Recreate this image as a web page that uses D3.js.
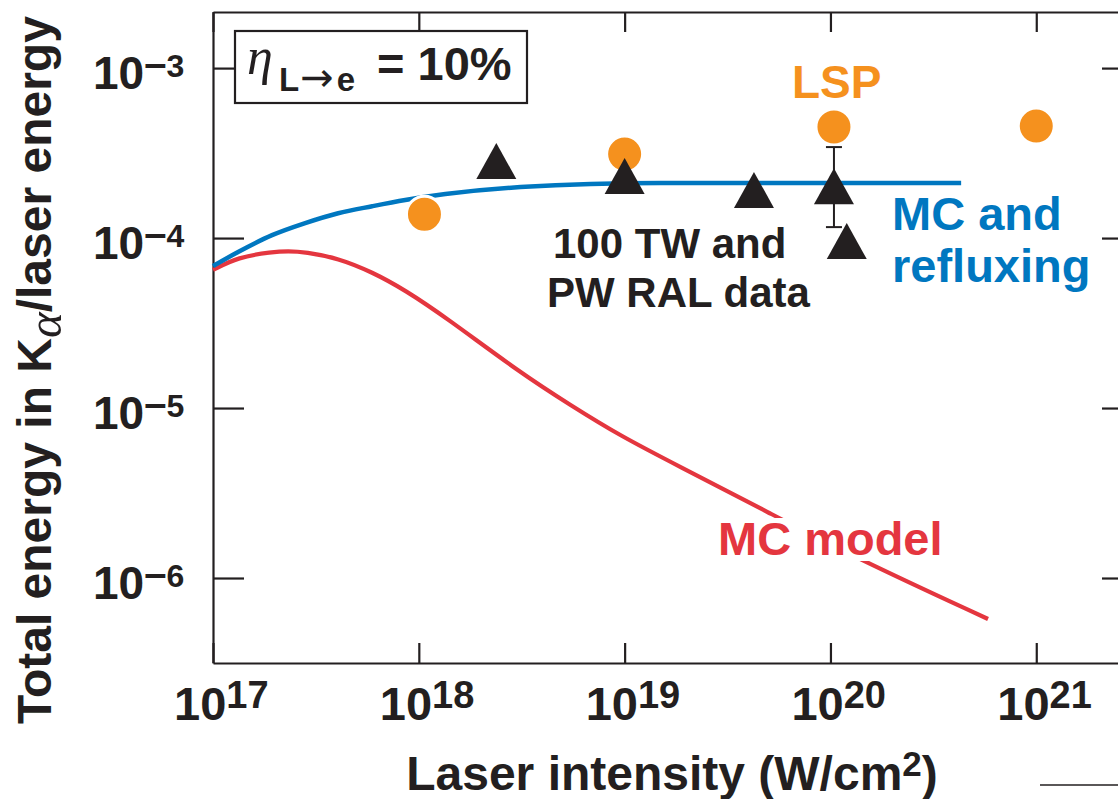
<!DOCTYPE html>
<html>
<head>
<meta charset="utf-8">
<script src="https://cdn.jsdelivr.net/npm/d3@7"></script>
<style>
  body { margin: 0; background: #fff; }
  text { font-family: "Liberation Sans", Arial, Helvetica, sans-serif; font-weight: bold; }
</style>
</head>
<body>
<script>
// ---------------- data ----------------
const xTicks = [1e17, 1e18, 1e19, 1e20, 1e21];
const xTickExp = ["17", "18", "19", "20", "21"];
const yTicks = [1e-6, 1e-5, 1e-4, 1e-3];
const yTickExp = ["6", "5", "4", "3"];

// MC and refluxing (blue curve)
const refluxX = [1e17, 1.324e17, 1.936e17, 2.805e17, 4.055e17, 5.94e17, 8.59e17, 1.346e18, 3.119e18, 1.496e19, 7.18e19, 4.315e20];
const refluxY = [6.84e-5, 8.28e-5, 1.04e-4, 1.225e-4, 1.40e-4, 1.54e-4, 1.675e-4, 1.815e-4, 1.995e-4, 2.11e-4, 2.11e-4, 2.11e-4];

// MC model (red curve)
const mcX = [1e17, 1.324e17, 1.936e17, 2.317e17, 2.805e17, 4.055e17, 5.94e17, 8.59e17, 1.346e18, 3.119e18, 5.46e18, 9.57e18, 1.79e19, 4.97e19, 1.30e20, 5.83e20];
const mcY = [6.49e-5, 7.73e-5, 8.28e-5, 8.39e-5, 8.28e-5, 7.62e-5, 6.31e-5, 4.94e-5, 3.43e-5, 1.61e-5, 1.04e-5, 6.84e-6, 4.62e-6, 2.44e-6, 1.33e-6, 5.74e-7];

// LSP (orange circles)
const lspX = [1.065e18, 1e19, 1.04e20, 1e21];
const lspY = [1.38e-4, 3.12e-4, 4.5e-4, 4.56e-4];

// 100 TW and PW RAL data (black triangles)
const ralX = [2.38e18, 1e19, 4.25e19, 1.04e20, 1.2e20];
const ralY = [2.84e-4, 2.32e-4, 1.92e-4, 2.02e-4, 9.6e-5];
const ralErrHi = [null, null, null, 3.43e-4, null];
const ralErrLo = [null, null, null, 1.16e-4, null];

// ---------------- chart ----------------
const W = 1118, H = 799;
const ink = "#231f20", blue = "#0077c0", red = "#e4363f", orange = "#f5911e";

const svg = d3.select("body").append("svg").attr("width", W).attr("height", H);

const x = d3.scaleLog().domain([1e17, Math.pow(10, 21.47)]).range([213, 1133]);
const y = d3.scaleLog().domain([Math.pow(10, -6.5), Math.pow(10, -2.67)]).range([663, 12]);

function styleAxis(g) {
  g.selectAll(".domain").attr("stroke", ink).attr("stroke-width", 2.2);
  g.selectAll(".tick line").attr("stroke", ink).attr("stroke-width", 2.2);
  g.selectAll(".tick text").remove();
}
const [x0, x1] = x.range();
const [yb, yt] = y.range();

svg.append("g").attr("transform", `translate(0,${yb})`)
  .call(d3.axisBottom(x).tickValues(xTicks).tickSizeInner(-20).tickSizeOuter(0).tickFormat(() => ""))
  .call(styleAxis);
svg.append("g").attr("transform", `translate(0,${yt})`)
  .call(d3.axisTop(x).tickValues(xTicks).tickSizeInner(-20).tickSizeOuter(0).tickFormat(() => ""))
  .call(styleAxis);
svg.append("g").attr("transform", `translate(${x0},0)`)
  .call(d3.axisLeft(y).tickValues(yTicks).tickSizeInner(-31).tickSizeOuter(0).tickFormat(() => ""))
  .call(styleAxis);
svg.append("g").attr("transform", `translate(${x1},0)`)
  .call(d3.axisRight(y).tickValues(yTicks).tickSizeInner(-31).tickSizeOuter(0).tickFormat(() => ""))
  .call(styleAxis);

// x tick labels
xTicks.forEach((v, i) => {
  const t = svg.append("text").attr("x", x(v) - 39).attr("y", yb + 57).attr("fill", ink);
  t.append("tspan").attr("font-size", 47).text("10");
  t.append("tspan").attr("font-size", 38).attr("dy", -12).text(xTickExp[i]);
});
// y tick labels
yTicks.forEach((v, i) => {
  const t = svg.append("text").attr("x", 93).attr("y", y(v) + 21).attr("fill", ink);
  t.append("tspan").attr("font-size", 46).text("10");
  t.append("tspan").attr("font-size", 40).attr("dy", -12).text("\u2013");
  t.append("tspan").attr("font-size", 32).text(yTickExp[i]);
});

// axis titles
svg.append("text").attr("x", 672).attr("y", 790).attr("text-anchor", "middle")
  .attr("font-size", 48).attr("fill", ink)
  .call(t => {
    t.append("tspan").text("Laser intensity (W/cm");
    t.append("tspan").attr("font-size", 35).attr("dy", -14).text("2");
    t.append("tspan").attr("dy", 14).text(")");
  });

svg.append("text").attr("transform", "translate(51,370) rotate(-90)")
  .attr("text-anchor", "middle").attr("font-size", 48).attr("fill", ink)
  .call(t => {
    t.append("tspan").text("Total energy in K");
    t.append("tspan").attr("dy", 10)
      .style("font-family", '"Liberation Serif", "DejaVu Serif", serif')
      .style("font-style", "italic").style("font-weight", "normal")
      .attr("font-size", 49).text("\u03B1");
    t.append("tspan").attr("dy", -10).text("/laser energy");
  });

// efficiency box
svg.append("rect").attr("x", 235).attr("y", 31).attr("width", 292).attr("height", 72)
  .attr("fill", "#fff").attr("stroke", ink).attr("stroke-width", 2.2);
svg.append("text").attr("x", 247).attr("y", 74).attr("font-size", 52).attr("fill", ink)
  .style("font-family", '"Liberation Serif", "DejaVu Serif", serif')
  .style("font-style", "italic").style("font-weight", "normal").text("\u03B7");
svg.append("text").attr("x", 279).attr("y", 91).attr("font-size", 33).attr("fill", ink)
  .call(t => {
    t.append("tspan").text("L");
    t.append("tspan").attr("dx", 1)
      .style("font-family", '"DejaVu Sans", sans-serif').style("font-weight", "normal")
      .attr("font-size", 40).text("\u2192");
    t.append("tspan").attr("dx", 3).text("e");
  });
svg.append("text").attr("x", 377).attr("y", 80).attr("font-size", 47).attr("fill", ink).text("= 10%");

// curves
const smooth = d3.line().x(d => x(d[0])).y(d => y(d[1])).curve(d3.curveBasis);
const mono = d3.line().x(d => x(d[0])).y(d => y(d[1])).curve(d3.curveMonotoneX);
svg.append("path").datum(mcX.map((v, i) => [v, mcY[i]]))
  .attr("d", smooth).attr("fill", "none").attr("stroke", red).attr("stroke-width", 4.2);
svg.append("path").datum(refluxX.map((v, i) => [v, refluxY[i]]))
  .attr("d", mono).attr("fill", "none").attr("stroke", blue).attr("stroke-width", 4.5);

// LSP circles
svg.selectAll("circle.lsp").data(lspX.map((v, i) => [v, lspY[i]])).join("circle")
  .attr("class", "lsp").attr("cx", d => x(d[0])).attr("cy", d => y(d[1])).attr("r", 18)
  .attr("fill", orange).attr("stroke", "#fff").attr("stroke-width", 3);

// error bars
ralX.forEach((v, i) => {
  if (ralErrHi[i] == null) return;
  const cx = x(v);
  svg.append("line").attr("x1", cx).attr("x2", cx).attr("y1", y(ralErrHi[i])).attr("y2", y(ralErrLo[i]))
    .attr("stroke", ink).attr("stroke-width", 2);
  [ralErrHi[i], ralErrLo[i]].forEach(e => {
    svg.append("line").attr("x1", cx - 8).attr("x2", cx + 8).attr("y1", y(e)).attr("y2", y(e))
      .attr("stroke", ink).attr("stroke-width", 2);
  });
});

// RAL triangles
const tw = 40, th = 36;
svg.selectAll("path.ral").data(ralX.map((v, i) => [v, ralY[i]])).join("path")
  .attr("class", "ral")
  .attr("d", d => {
    const cx = x(d[0]), cy = y(d[1]);
    return `M${cx},${cy - th / 2}L${cx + tw / 2},${cy + th / 2}L${cx - tw / 2},${cy + th / 2}Z`;
  })
  .attr("fill", ink);

// labels
svg.append("text").attr("x", 792).attr("y", 98).attr("font-size", 46).attr("fill", orange).text("LSP");
svg.append("text").attr("x", 553).attr("y", 258).attr("font-size", 42).attr("fill", ink).text("100 TW and");
svg.append("text").attr("x", 547).attr("y", 307).attr("font-size", 42).attr("fill", ink).text("PW RAL data");
svg.append("text").attr("x", 892).attr("y", 230).attr("font-size", 47).attr("fill", blue).text("MC and");
svg.append("text").attr("x", 892).attr("y", 282).attr("font-size", 47).attr("fill", blue).text("refluxing");

const mcLabel = svg.append("text").attr("x", 718).attr("y", 555).attr("font-size", 47).attr("fill", red).text("MC model");
const bb = mcLabel.node().getBBox();
svg.insert("rect", () => mcLabel.node())
  .attr("x", bb.x - 4).attr("y", bb.y + 6).attr("width", bb.width + 8).attr("height", bb.height - 10)
  .attr("fill", "#fff");

// stray rule at lower right
svg.append("line").attr("x1", 1040).attr("x2", W).attr("y1", 785).attr("y2", 785)
  .attr("stroke", ink).attr("stroke-width", 1.5);
</script>
</body>
</html>
